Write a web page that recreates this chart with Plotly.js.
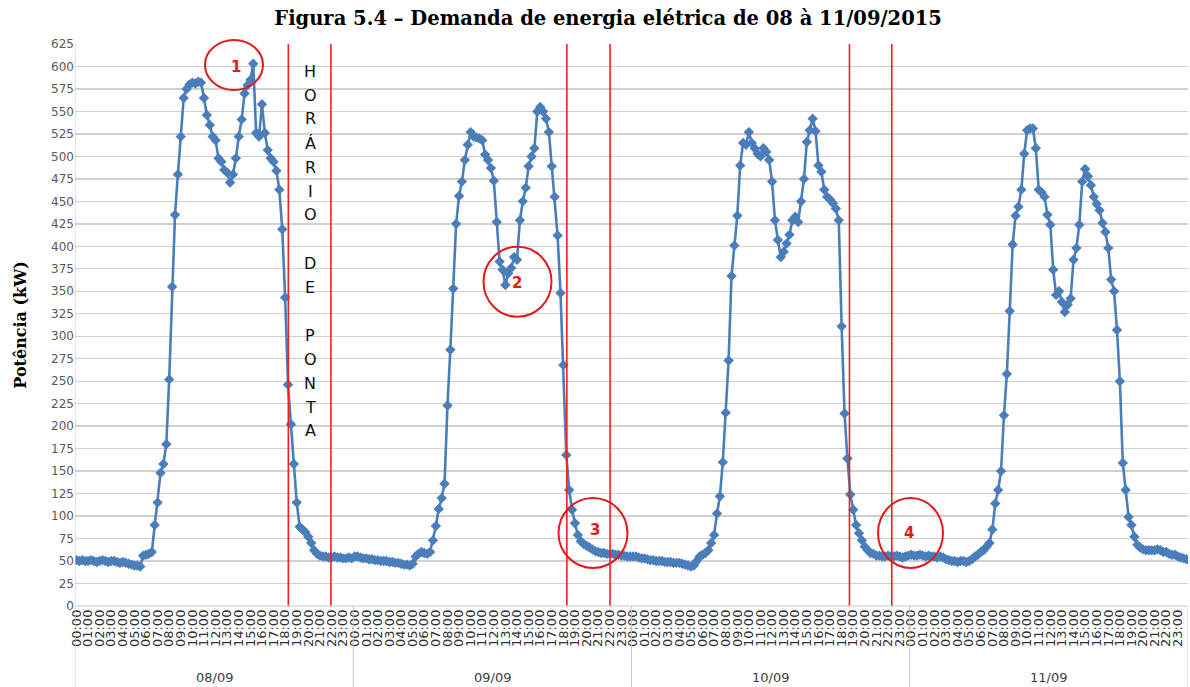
<!DOCTYPE html>
<html>
<head>
<meta charset="utf-8">
<script src="https://cdn.plot.ly/plotly-3.0.1.min.js"></script>
<style>html,body{margin:0;padding:0;background:#fff;}#chart{width:1190px;height:687px;}</style>
</head>
<body>
<div id="chart"></div>
<script>
// ---- data (15-minute readings, kW) ----
const dayLabels = ["08/09", "09/09", "10/09", "11/09"];
const hourLabels = ["00:00","01:00","02:00","03:00","04:00","05:00","06:00","07:00","08:00","09:00","10:00","11:00",
                    "12:00","13:00","14:00","15:00","16:00","17:00","18:00","19:00","20:00","21:00","22:00","23:00"];

const demand0809 = [51,50,51,50,50,51,50,49,50,51,50,49,50,50,49,48,49,48,47,46,45,45,44,56,
  57,58,60,90,115,148,158,180,252,355,435,480,522,565,575,580,582,581,583,582,565,546,535,522,
  518,498,494,485,482,471,480,498,522,541,570,579,585,603,526,522,558,526,507,498,494,484,463,419,
  343,246,202,158,115,88,85,82,77,70,62,58,56,55,55,54,54,55,54,54,53,53,54,53];

const demand0909 = [55,55,54,53,53,52,52,51,51,50,50,50,49,49,48,48,47,46,46,45,47,55,58,60,
  59,58,60,73,89,108,120,136,223,285,353,425,456,472,496,513,527,522,521,520,518,502,496,487,
  473,427,383,374,357,370,376,388,385,429,450,465,489,500,509,550,555,550,542,527,489,455,412,348,
  268,168,129,107,92,79,72,69,67,65,63,61,60,59,59,58,58,58,57,57,56,56,55,55];

const demand1009 = [55,55,54,53,53,52,51,51,50,50,50,49,49,49,48,48,48,47,46,45,44,45,50,55,
  57,59,62,70,79,103,122,160,215,273,367,401,434,490,515,513,527,515,509,503,500,509,505,496,
  472,429,407,388,394,403,413,429,433,427,450,475,516,529,542,528,490,483,463,455,452,448,442,429,
  311,214,164,124,107,90,81,73,66,62,59,58,56,56,55,55,56,55,55,56,55,54,55,56];

const demand1109 = [57,56,56,57,56,55,56,55,55,54,55,54,52,51,50,50,49,50,50,49,50,52,55,57,
  60,62,66,70,85,114,129,150,212,258,328,402,434,444,463,503,529,531,531,509,463,460,455,435,
  424,374,346,350,338,327,335,342,385,398,424,472,486,478,468,455,447,440,426,416,398,363,350,307,
  250,159,129,99,90,77,68,65,63,62,62,62,62,63,62,60,60,58,57,57,55,54,53,52];

const days = [demand0809, demand0909, demand1009, demand1109];
const perDay = 96;               // 15-minute readings per day
const demand = [].concat(...days);
const xIdx = demand.map((_, i) => i);

// hourly tick labels (one every 4 readings)
const tickvals = [], ticktext = [];
days.forEach((_, d) => hourLabels.forEach((h, k) => { tickvals.push(d * perDay + 4 * k); ticktext.push(h); }));

// ---- layout helpers (pixel -> paper) ----
const L = 75, R = 1188, T = 44, B = 606;
const px = v => (v - L) / (R - L);
const py = v => (B - v) / (B - T);

const shapes = [];
const annotations = [];

// peak-hour limits (red lines), in reading index
const peakLines = [73.1, 87.8, 169.2, 184.1, 266.7, 281.3];
peakLines.forEach(x => shapes.push({type:'line', xref:'x', yref:'paper', x0:x, x1:x, y0:0, y1:1,
  line:{color:'#ff1a1a', width:1.6}}));

// day separators in label area + frame lines
const sepBottom = py(687);
[0, 1, 2, 3, 4].forEach(d => {
  const x = d * perDay - 0.5;
  shapes.push({type:'line', xref:'x', yref:'paper', x0:x, x1:x, y0:(d === 0 ? 1 : 0), y1:sepBottom,
    line:{color:'#c8c8c8', width:1}});
});
// x axis baseline
shapes.push({type:'line', xref:'paper', yref:'paper', x0:0, x1:1, y0:0, y1:0, line:{color:'#c8c8c8', width:1}});

// day labels
dayLabels.forEach((lab, d) => annotations.push({text:lab, xref:'x', yref:'paper', x:d * perDay + 47.5,
  y:py(677), showarrow:false, xanchor:'center', yanchor:'middle',
  font:{family:'DejaVu Sans', size:13, color:'#404040'}}));

// "HORÁRIO DE PONTA" written vertically
const vertText = "HORÁRIO DE PONTA";
[...vertText].forEach((ch, k) => {
  if (ch === ' ') return;
  annotations.push({text:ch, xref:'paper', yref:'paper', x:px(310), y:py(71 + 24 * k), showarrow:false,
    xanchor:'center', yanchor:'middle', font:{family:'DejaVu Sans', size:16, color:'#111'}});
});

// numbered red circles
const marks = [
  {label:'1', cx:234,   cy:65,    rx:29,   ry:25, lx:236, ly:67},
  {label:'2', cx:517.5, cy:281.7, rx:34,   ry:35, lx:517, ly:283},
  {label:'3', cx:593,   cy:533,   rx:34.5, ry:35, lx:595, ly:530},
  {label:'4', cx:910.5, cy:533,   rx:32.5, ry:35, lx:909, ly:533}
];
marks.forEach(m => {
  shapes.push({type:'circle', xref:'paper', yref:'paper', x0:px(m.cx - m.rx), x1:px(m.cx + m.rx),
    y0:py(m.cy + m.ry), y1:py(m.cy - m.ry), line:{color:'#e31a1c', width:2}});
  annotations.push({text:'<b>' + m.label + '</b>', xref:'paper', yref:'paper', x:px(m.lx), y:py(m.ly),
    showarrow:false, xanchor:'center', yanchor:'middle', font:{family:'DejaVu Sans', size:15, color:'#e31a1c'}});
});

const trace = {
  x: xIdx, y: demand, type:'scatter', mode:'lines+markers',
  line:{color:'#4a7ebb', width:2.6},
  marker:{symbol:'diamond', size:8, color:'#4a7ebb'},
  hoverinfo:'y'
};

const layout = {
  width:1190, height:687,
  margin:{l:L, r:1190 - R, t:T, b:687 - B},
  paper_bgcolor:'#ffffff', plot_bgcolor:'#ffffff',
  showlegend:false,
  title:{text:'<b>Figura 5.4 – Demanda de energia elétrica de 08 à 11/09/2015</b>',
    font:{family:'DejaVu Serif', size:19.5, color:'#000'},
    x:0.511, xanchor:'center', xref:'container', y:1 - 18 / 687, yanchor:'middle', yref:'container'},
  xaxis:{range:[-0.5, 383.5], tickmode:'array', tickvals:tickvals, ticktext:ticktext, tickangle:-90,
    tickfont:{family:'DejaVu Sans', size:13, color:'#333'}, showgrid:false, zeroline:false,
    showline:false, ticks:'', fixedrange:true},
  yaxis:{range:[0, 625], tick0:0, dtick:25, gridcolor:'#d0d0d0', gridwidth:1.4, zeroline:false,
    showline:false, ticks:'', tickfont:{family:'DejaVu Sans', size:12, color:'#595959'},
    title:{text:'<b>Potência (kW)</b>', font:{family:'DejaVu Serif', size:16, color:'#000'}, standoff:20},
    fixedrange:true},
  shapes:shapes,
  annotations:annotations
};

Plotly.newPlot('chart', [trace], layout, {displayModeBar:false, staticPlot:true});
</script>
</body>
</html>
